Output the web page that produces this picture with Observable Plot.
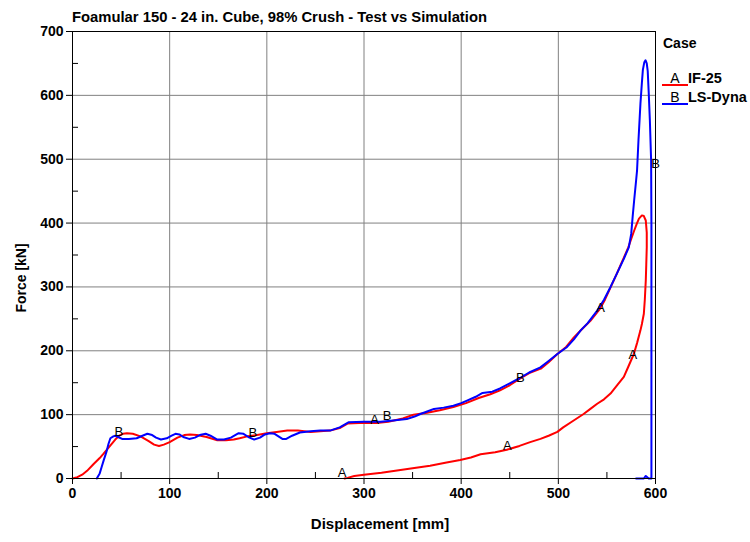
<!DOCTYPE html>
<html><head><meta charset="utf-8">
<script src="https://cdn.jsdelivr.net/npm/d3@7"></script>
<script src="https://cdn.jsdelivr.net/npm/@observablehq/plot@0.6"></script>
<style>
body{margin:0;background:#fff;}
#wrap{position:relative;width:750px;height:542px;overflow:hidden;font-family:"Liberation Sans",Arial,sans-serif;color:#000;}
#chart{position:absolute;left:0;top:0;}
#overlay{position:absolute;left:0;top:0;pointer-events:none;}
svg g[aria-label$="tick label"]{font-weight:bold;}
</style></head><body>
<div id="wrap">
  <div id="chart"></div>
  <svg id="overlay" width="750" height="542"></svg>
</div>
<script>
// Text
const titleText = "Foamular 150 - 24 in. Cube, 98% Crush - Test vs Simulation";
const xLabel = "Displacement [mm]";
const yLabel = "Force [kN]";

// Tick values
const xTicks = [0, 100, 200, 300, 400, 500, 600];
const yTicks = [0, 100, 200, 300, 400, 500, 600, 700];
const xGrid = [100, 200, 300, 400, 500];
const yGrid = [100, 200, 300, 400, 500, 600];
const xMinor = [50, 150, 250, 350, 450, 550];
const yMinor = [50, 150, 250, 350, 450, 550, 650];

// Series A: IF-25 (test), displacement [mm]
const aX = [0,5,10,15,22,28,32,38,44,48,52,56,62,70,78,84,89,94,100,108,115,121,128,138,149,158,166,172,180,190,200,210,221,232,245,255,265,275,283,295,313,325,340,351,365,378,392,405,418,430,440,450,460,470,482,490,499,508,516,525,533,543,548,554,560,564,568,572,575,578,581,583,586,588,590,591,591,590.5,590,589,588,586,584.5,581,577.7,572,567.4,560,553.7,547,540,533,526,515,505,499,490,481.6,471,460,447,435,420,410,399,385,368,350,334,318,300,290,283,280];
// Series A force [kN]
const aY = [0,2,6,12,23,32,39,50,61,67,70,71,70,66,59,53,51,53,57,64,68,69,68,65,60,60,61,63,66,68,71,73,75,75,73,74,75,79,86,87,87,89,94,100,103,107,112,118,126,132,138,146,156,165,172,182,195,206,221,235,247,266,280,300,320,334,348,362,375,388,400,407,412,411,404,385,362,335,310,280,258,242,232,212,195,175,159,145,133,124,117,109,101,90,80,73,67,62,57,51,45,41,38,33,29,25,20,16,12.5,9,6,4,1,0];

// Series B: LS-Dyna (simulation)
const bX = [25,28,30,32,35,37,39,42,44,47,51,58,66,72,77,82,86,91,97,102,106,110,114,120,126,131,137,142,149,156,163,171,176,181,187,193,198,203,208,212,216,220,226,234,245,255,265,275,284,300,317,330,344,352,358,365,372,382,392,400,406,415,422,432,440,450,460,470,481.6,490,499,509,516,523,530,540,547,553.7,560,567.4,572.5,575,576.5,578,580,581,582.5,584.5,586,587,588.5,589.7,591,592,593,594.2,595.5,595.8,595.8,595.8,593,590,588,580];
const bY = [0,8,18,28,42,54,63,66,67,65,62,62,63,67,70,68,64,61,63,67,70,69,65,62,64,68,70,67,61,61,64,71,70,65,61,64,69,71,70,66,62,62,67,72,74,75,75,80,88,89,89,91,93,97,101,105,109,111,114,118,122,128,134,136,141,149,157,166,174,184,195,206,218,232,243,263,280,300,320,344,362,383,410,435,466,482,530,587,620,640,652,655,650,638,605,561,498,400,200,0,0,4,0,0];

// Curve letter labels
const labText = ["A","A","B","A","A","A","B","B","B","B"];
const labX = [277.5,311,323.8,447.4,543.4,576.7,461,47.6,185.5,600];
const labY = [8.3,92.4,97.6,51.2,266.7,194,158,72.5,71,492.8];

// Legend
const caseTitle = "Case";
const caseKeys = ["A","B"];
const caseNames = ["IF-25","LS-Dyna"];
const caseColors = ["#ff0000","#0000ff"];

const seriesA = aX.map((x,i)=>({x, y:aY[i]}));
const seriesB = bX.map((x,i)=>({x, y:bY[i]}));
const labels = labText.map((t,i)=>({t, x:labX[i], y:labY[i]}));

const W = 750, H = 542, mL = 72, mR = 95, mT = 31, mB = 64;
const plotW = W - mL - mR, plotH = H - mT - mB;
const font = "'Liberation Sans', Arial, sans-serif";

const chart = Plot.plot({
  width: W, height: H,
  marginLeft: mL, marginRight: mR, marginTop: mT, marginBottom: mB,
  style: {fontFamily: font, fontSize: "14px", background: "transparent", color: "#000", overflow: "visible"},
  x: {domain: [0, 600]},
  y: {domain: [0, 700]},
  marks: [
    Plot.gridX(xGrid, {stroke: "#808080", strokeOpacity: 1}),
    Plot.gridY(yGrid, {stroke: "#808080", strokeOpacity: 1}),
    Plot.ruleX(xMinor, {insetTop: plotH - 6, stroke: "#000"}),
    Plot.ruleY(yMinor, {insetRight: plotW - 6, stroke: "#000"}),
    Plot.line(seriesA, {x: "x", y: "y", stroke: caseColors[0], strokeWidth: 2}),
    Plot.line(seriesB, {x: "x", y: "y", stroke: caseColors[1], strokeWidth: 2}),
    Plot.text(labels, {x: "x", y: "y", text: "t", fontSize: 13, fill: "#000"}),
    Plot.axisX({ticks: xTicks, tickSize: 6, tickPadding: 4, fontSize: 14, label: null}),
    Plot.axisY({ticks: yTicks, tickSize: 6, tickPadding: 3, fontSize: 14, label: null}),
    Plot.text([xLabel], {frameAnchor: "bottom", textAnchor: "middle", dx: 16, dy: 50, fontSize: 15, fontWeight: "bold", fill: "#000", lineAnchor: "bottom"}),
    Plot.text([yLabel], {frameAnchor: "left", textAnchor: "middle", rotate: -90, dx: -51, dy: 23, fontSize: 14, fontWeight: "bold", fill: "#000"}),
    Plot.frame({stroke: "#000"})
  ]
});
document.getElementById("chart").appendChild(chart);

// Title and legend overlay
const ov = d3.select("#overlay").style("font-family", font);
ov.append("text").attr("x", 72).attr("y", 22).attr("font-size", 14.8).attr("font-weight", "bold").attr("fill", "#000").text(titleText);
ov.append("text").attr("x", 663).attr("y", 48).attr("font-size", 14).attr("font-weight", "bold").attr("fill", "#000").text(caseTitle);
caseKeys.forEach((k, i) => {
  const by = 83 + i * 19;
  ov.append("line").attr("x1", 662).attr("x2", 688).attr("y1", by + 2).attr("y2", by + 2).attr("stroke", caseColors[i]).attr("stroke-width", 2);
  ov.append("text").attr("x", 675).attr("y", by).attr("text-anchor", "middle").attr("font-size", 14).attr("fill", "#000").text(k);
  ov.append("text").attr("x", 688).attr("y", by).attr("font-size", 14.5).attr("font-weight", "bold").attr("fill", "#000").text(caseNames[i]);
});
</script>
</body></html>
